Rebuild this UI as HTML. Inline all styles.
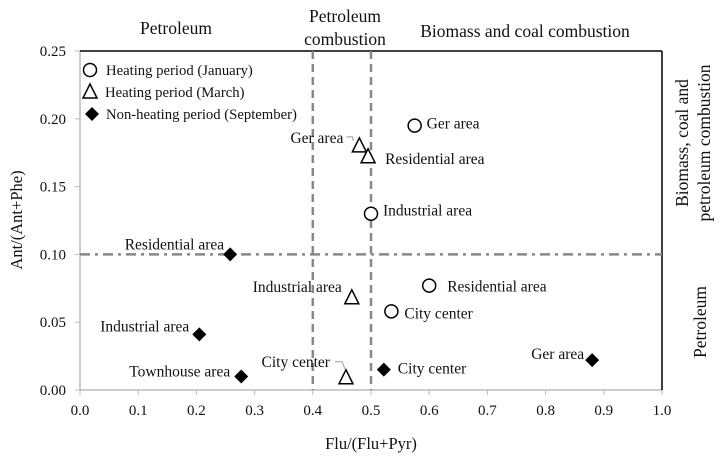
<!DOCTYPE html>
<html><head><meta charset="utf-8"><style>
html,body{margin:0;padding:0;background:#fff;}
svg text{font-family:"Liberation Serif",serif;fill:#111;}
</style></head><body>
<svg id="chart" width="720" height="460" viewBox="0 0 720 460" xmlns="http://www.w3.org/2000/svg"></svg>
<script>
const xTicks=[0,0.1,0.2,0.3,0.4,0.5,0.6,0.7,0.8,0.9,1.0];
const yTicks=[0,0.05,0.10,0.15,0.20,0.25];
const janNames=["Ger area","Industrial area","Residential area","City center"];
const janX=[0.575,0.50,0.60,0.535];
const janY=[0.195,0.13,0.077,0.058];
const marNames=["Ger area","Residential area","Industrial area","City center"];
const marX=[0.48,0.495,0.467,0.457];
const marY=[0.18,0.172,0.068,0.009];
const sepNames=["Residential area","Industrial area","Townhouse area","City center","Ger area"];
const sepX=[0.258,0.205,0.277,0.522,0.88];
const sepY=[0.10,0.041,0.010,0.015,0.022];
// label placement (offsets in px, anchor)
const janLab=[[12,3,"start"],[12,2,"start"],[18,6,"start"],[13,7,"start"]];
const marLab=[[-16,-3,"end"],[17,7,"start"],[-10,-6,"end"],[-16,-11,"end"]];
const sepLab=[[-6,-5,"end"],[-10,-3,"end"],[-11,0,"end"],[14,4,"start"],[-8,-1,"end"]];

const X0=80,X1=662,Y0=390,Y1=51;
const sx=v=>X0+(X1-X0)*v;
const sy=v=>Y0-(Y0-Y1)*v/0.25;
const svg=document.getElementById('chart');
const NS="http://www.w3.org/2000/svg";
function mk(tag,attrs,name,txt){const e=document.createElementNS(NS,tag);for(const k in attrs)e.setAttribute(k,attrs[k]);


if(txt!==undefined)e.textContent=txt;svg.appendChild(e);return e;}

// axes
mk('line',{x1:X0,y1:Y0,x2:X1,y2:Y0,stroke:'#bbb','stroke-width':1.5},'x-axis');
mk('line',{x1:X0,y1:Y0,x2:X0,y2:Y1,stroke:'#bbb','stroke-width':1.5},'y-axis');
mk('line',{x1:X0,y1:Y1,x2:X1,y2:Y1,stroke:'#000','stroke-width':1.5},'top-border');
mk('line',{x1:X1,y1:Y1,x2:X1,y2:Y0,stroke:'#000','stroke-width':1.5},'right-border');
xTicks.forEach(t=>{
 mk('line',{x1:sx(t),y1:Y0,x2:sx(t),y2:Y0+5,stroke:'#bbb','stroke-width':1},'x-tick');
 mk('text',{x:sx(t),y:Y0+25,'text-anchor':'middle','font-size':15},'x-tick-label',t.toFixed(1));
});
yTicks.forEach(t=>{
 mk('line',{x1:X0-5,y1:sy(t),x2:X0,y2:sy(t),stroke:'#bbb','stroke-width':1},'y-tick');
 mk('text',{x:X0-14,y:sy(t)+5,'text-anchor':'end','font-size':15},'y-tick-label',t.toFixed(2));
});
// threshold lines
[0.4,0.5].forEach(v=>mk('line',{x1:sx(v),y1:Y1,x2:sx(v),y2:Y0,stroke:'#888','stroke-width':2.5,'stroke-dasharray':'8 5'},'threshold-x-'+v));
mk('line',{x1:X0,y1:sy(0.1),x2:X1,y2:sy(0.1),stroke:'#888','stroke-width':2.5,'stroke-dasharray':'10 5 3 5'},'threshold-y-0.1');

// titles
mk('text',{x:371,y:449,'text-anchor':'middle','font-size':16.5},'x-axis-title','Flu/(Flu+Pyr)');
mk('text',{x:22,y:220,'text-anchor':'middle','font-size':16.5,transform:'rotate(-90 22 220)'},'y-axis-title','Ant/(Ant+Phe)');
mk('text',{x:176,y:34,'text-anchor':'middle','font-size':17.5},'region-petroleum','Petroleum');
mk('text',{x:345,y:22,'text-anchor':'middle','font-size':17.5},'region-petroleum-combustion-1','Petroleum');
mk('text',{x:345,y:45,'text-anchor':'middle','font-size':17.5},'region-petroleum-combustion-2','combustion');
mk('text',{x:525,y:37,'text-anchor':'middle','font-size':17.5},'region-biomass-coal','Biomass and coal combustion');
mk('text',{x:688,y:143,'text-anchor':'middle','font-size':17.5,transform:'rotate(-90 688 143)'},'region-right-1','Biomass, coal and');
mk('text',{x:710,y:143,'text-anchor':'middle','font-size':17.5,transform:'rotate(-90 710 143)'},'region-right-2','petroleum combustion');
mk('text',{x:706,y:322,'text-anchor':'middle','font-size':17.5,transform:'rotate(-90 706 322)'},'region-right-petroleum','Petroleum');

// markers
function circle(x,y,n){mk('circle',{cx:x,cy:y,r:6.5,fill:'#fff',stroke:'#000','stroke-width':1.5},n);}
function tri(x,y,n){mk('polygon',{points:`${x},${y-8} ${x-7},${y+6} ${x+7},${y+6}`,fill:'#fff',stroke:'#000','stroke-width':1.5},n);}
function dia(x,y,n){mk('polygon',{points:`${x},${y-7} ${x+7},${y} ${x},${y+7} ${x-7},${y}`,fill:'#000'},n);}
function lab(x,y,l,txt,n){mk('text',{x:x+l[0],y:y+l[1],'text-anchor':l[2],'font-size':15.5},n,txt);}

janX.forEach((v,i)=>{const x=sx(v),y=sy(janY[i]);circle(x,y,'jan-point');lab(x,y,janLab[i],janNames[i],'jan-label');});
marX.forEach((v,i)=>{const x=sx(v),y=sy(marY[i]);tri(x,y,'mar-point');lab(x,y,marLab[i],marNames[i],'mar-label');});
sepX.forEach((v,i)=>{const x=sx(v),y=sy(sepY[i]);dia(x,y,'sep-point');lab(x,y,sepLab[i],sepNames[i],'sep-label');});
// leader lines
(function(){const x=sx(marX[0]),y=sy(marY[0]);mk('polyline',{points:`${x-13},${y-9} ${x-7},${y-9} ${x-6},${y-5}`,fill:'none',stroke:'#999','stroke-width':1},'leader-ger-mar');})();
(function(){const x=sx(marX[3]),y=sy(marY[3]);mk('polyline',{points:`${x-11},${y-16} ${x-4},${y-16} ${x-1},${y-9}`,fill:'none',stroke:'#999','stroke-width':1},'leader-city-mar');})();

// legend
circle(90,70,'legend-jan-marker');
mk('text',{x:106,y:75,'font-size':14.7},'legend-jan','Heating period (January)');
tri(90,92,'legend-mar-marker');
mk('text',{x:105,y:97,'font-size':14.7},'legend-mar','Heating period (March)');
dia(92,114,'legend-sep-marker');
mk('text',{x:106,y:119,'font-size':14.7},'legend-sep','Non-heating period (September)');
</script>
</body></html>
